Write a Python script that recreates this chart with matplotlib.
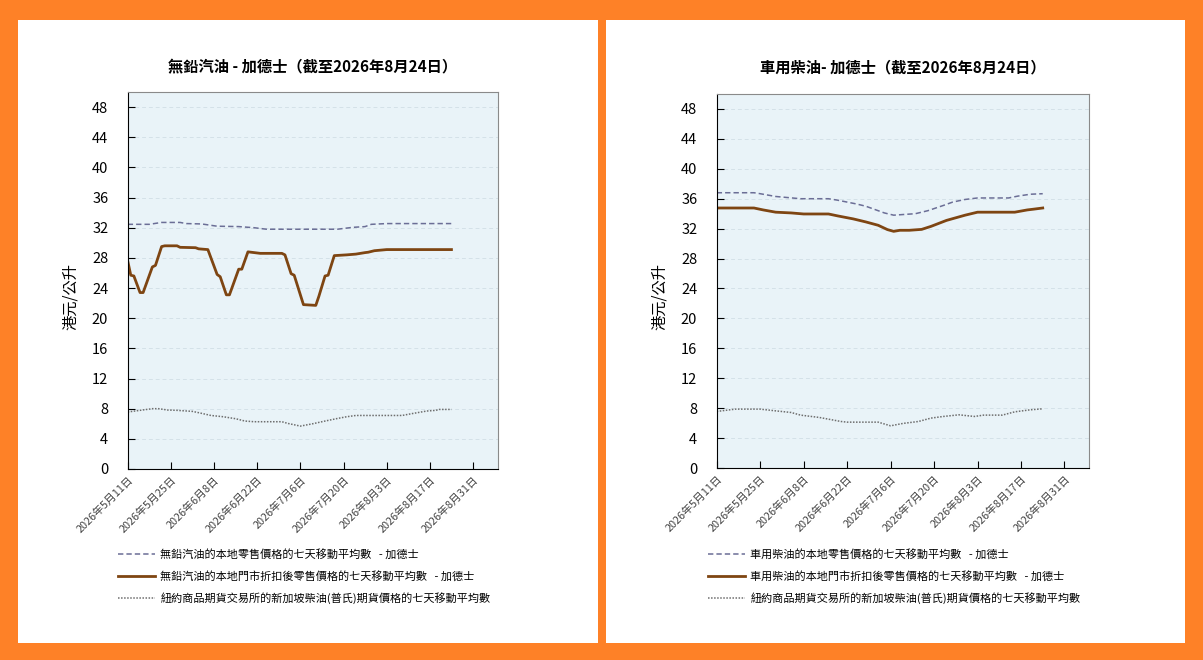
import pandas as pd
import matplotlib
matplotlib.use("Agg")
import matplotlib.pyplot as plt
import matplotlib.patches as mpatches

plt.rcParams["font.family"] = ["Noto Sans CJK TC", "DejaVu Sans"]

# ── data (7-day moving averages, HK$/litre) ──────────────
petrol_retail_dates = ["05-11", "05-18", "05-22", "05-28", "05-30", "06-04", "06-09", "06-16",
                       "06-21", "06-25", "07-18", "07-23", "07-27", "07-29", "08-03", "08-24"]
petrol_retail = [32.45, 32.45, 32.7, 32.7, 32.55, 32.5, 32.2, 32.15,
                 32.0, 31.8, 31.8, 32.05, 32.15, 32.45, 32.55, 32.55]

petrol_disc_dates = ["05-11", "05-12", "05-13", "05-15", "05-16", "05-19", "05-20", "05-22",
                     "05-23", "05-27", "05-28", "06-02", "06-03", "06-06", "06-09", "06-10",
                     "06-12", "06-13", "06-16", "06-17", "06-19", "06-21", "06-23", "06-30",
                     "07-01", "07-03", "07-04", "07-07", "07-11", "07-12", "07-14", "07-15",
                     "07-17", "07-21", "07-24", "07-27", "07-28", "07-30", "08-03", "08-24"]
petrol_disc = [27.6, 25.7, 25.6, 23.4, 23.4, 26.8, 27.0, 29.5,
               29.6, 29.6, 29.4, 29.35, 29.2, 29.1, 25.8, 25.5,
               23.1, 23.1, 26.5, 26.5, 28.8, 28.7, 28.6, 28.6,
               28.4, 25.9, 25.7, 21.8, 21.7, 22.9, 25.6, 25.7,
               28.3, 28.4, 28.5, 28.7, 28.75, 28.95, 29.1, 29.1]

petrol_nymex_dates = ["05-11", "05-15", "05-19", "05-21", "05-24", "05-27", "06-01", "06-03",
                      "06-07", "06-11", "06-15", "06-18", "06-21", "06-30", "07-02", "07-06",
                      "07-10", "07-14", "07-18", "07-21", "07-24", "08-08", "08-11", "08-16",
                      "08-19", "08-20", "08-24"]
petrol_nymex = [7.56, 7.78, 8.0, 8.0, 7.82, 7.78, 7.64, 7.47,
                7.1, 6.93, 6.67, 6.36, 6.27, 6.27, 6.04, 5.69,
                6.0, 6.36, 6.7, 6.93, 7.1, 7.1, 7.33, 7.69,
                7.78, 7.9, 7.9]

diesel_retail_dates = ["05-11", "05-23", "05-25", "05-30", "06-07", "06-16", "06-19", "06-25",
                       "06-28", "07-04", "07-07", "07-14", "07-18", "07-23", "07-26", "07-30",
                       "08-03", "08-13", "08-16", "08-20", "08-24"]
diesel_retail = [36.8, 36.8, 36.67, 36.3, 36.0, 36.0, 35.8, 35.3,
                 35.0, 34.1, 33.8, 34.0, 34.4, 35.1, 35.55, 35.9,
                 36.1, 36.1, 36.35, 36.6, 36.67]

diesel_disc_dates = ["05-11", "05-23", "05-26", "05-30", "06-04", "06-08", "06-16", "06-19",
                     "06-24", "06-28", "07-02", "07-05", "07-07", "07-09", "07-12", "07-16",
                     "07-19", "07-24", "07-30", "08-03", "08-15", "08-19", "08-21", "08-24"]
diesel_disc = [34.76, 34.76, 34.5, 34.2, 34.1, 33.96, 33.96, 33.7,
               33.3, 32.9, 32.45, 31.87, 31.64, 31.78, 31.78, 31.9,
               32.3, 33.1, 33.8, 34.2, 34.2, 34.5, 34.6, 34.76]

diesel_nymex_dates = ["05-11", "05-17", "05-25", "05-30", "06-04", "06-07", "06-13", "06-20",
                      "06-22", "07-02", "07-06", "07-10", "07-15", "07-19", "07-23", "07-28",
                      "08-02", "08-05", "08-11", "08-15", "08-20", "08-24"]
diesel_nymex = [7.56, 7.87, 7.87, 7.64, 7.42, 7.07, 6.76, 6.22,
                6.13, 6.13, 5.64, 5.96, 6.22, 6.67, 6.89, 7.11,
                6.89, 7.07, 7.07, 7.51, 7.78, 7.91]

YEAR = "2026"
x_tick_dates = ["05-11", "05-25", "06-08", "06-22", "07-06", "07-20", "08-03", "08-17", "08-31"]
y_ticks = list(range(0, 49, 4))

titles = ["無鉛汽油 - 加德士（截至2026年8月24日）", "車用柴油- 加德士（截至2026年8月24日）"]
legend_labels = [
    ["無鉛汽油的本地零售價格的七天移動平均數   - 加德士",
     "無鉛汽油的本地門市折扣後零售價格的七天移動平均數   - 加德士",
     "紐約商品期貨交易所的新加坡柴油(普氏)期貨價格的七天移動平均數"],
    ["車用柴油的本地零售價格的七天移動平均數   - 加德士",
     "車用柴油的本地門市折扣後零售價格的七天移動平均數   - 加德士",
     "紐約商品期貨交易所的新加坡柴油(普氏)期貨價格的七天移動平均數"],
]
y_label = "港元/公升"

# ── style ───────────────────────────────────
ORANGE = "#FE8127"
BG = "#E9F3F8"
C_RETAIL = "#6B6E96"
C_DISC = "#7E4512"
C_NYMEX = "#6E6E6E"

W, H = 1203, 660


def to_dt(days):
    return pd.to_datetime([f"{YEAR}-{d}" for d in days])


fig = plt.figure(figsize=(W / 100, H / 100), dpi=100)
fig.patch.set_facecolor(ORANGE)

# white panels
for x0, x1 in [(18, 598), (606, 1185)]:
    fig.patches.append(mpatches.Rectangle((x0 / W, 1 - 643 / H), (x1 - x0) / W, (643 - 20) / H,
                                          transform=fig.transFigure, facecolor="white",
                                          edgecolor="none", zorder=-5))

panels = [
    dict(rect=(127.7, 92, 497.7, 469), series=(petrol_retail_dates, petrol_retail, petrol_disc_dates,
                                                petrol_disc, petrol_nymex_dates, petrol_nymex),
         ylab_x=70, leg_x=118),
    dict(rect=(716.7, 94, 1089.3, 468), series=(diesel_retail_dates, diesel_retail, diesel_disc_dates,
                                                 diesel_disc, diesel_nymex_dates, diesel_nymex),
         ylab_x=659, leg_x=708),
]

for i, p in enumerate(panels):
    l, t, r, b = p["rect"]
    ax = fig.add_axes([l / W, 1 - b / H, (r - l) / W, (b - t) / H], zorder=2)
    ax.set_facecolor(BG)
    rd, rv, dd, dv, nd, nv = p["series"]

    h1, = ax.plot(to_dt(rd), rv, color=C_RETAIL, lw=1.1, ls=(0, (3.5, 2)))
    h2, = ax.plot(to_dt(dd), dv, color=C_DISC, lw=2.0)
    h3, = ax.plot(to_dt(nd), nv, color=C_NYMEX, lw=1.1, ls=(0, (1, 1)))

    ax.set_ylim(0, 50)
    ax.set_yticks(y_ticks)
    ax.set_xlim(pd.Timestamp(f"{YEAR}-05-11"), pd.Timestamp(f"{YEAR}-09-08"))
    xt = to_dt(x_tick_dates)
    ax.set_xticks(xt)
    ax.set_xticklabels([f"{d.year}年{d.month}月{d.day}日" for d in xt], rotation=45,
                       ha="right", rotation_mode="anchor", fontsize=7.8, color="#444444")
    ax.tick_params(axis="y", direction="in", length=5, labelsize=10.5, pad=14, colors="black")
    ax.tick_params(axis="x", direction="in", length=5, pad=4)

    ax.yaxis.grid(True, color="#D4E1E8", ls=(0, (4, 3)), lw=0.7)
    ax.set_axisbelow(True)
    for s in ["left", "bottom"]:
        ax.spines[s].set_color("black")
    for s in ["top", "right"]:
        ax.spines[s].set_color("#8A8A8A")

    fig.text((l + r) / 2 / W, 1 - 67 / H, titles[i], ha="center", va="center",
             fontsize=11, fontweight="bold", zorder=3)
    fig.text(p["ylab_x"] / W, 1 - 296 / H, y_label, rotation=90, ha="center", va="center",
             fontsize=11, zorder=3)

    leg = fig.legend([h1, h2, h3], legend_labels[i], loc="upper left",
                     bbox_to_anchor=(p["leg_x"] / W, 1 - 549 / H), frameon=False,
                     fontsize=8, handlelength=3.3, handletextpad=0.5, labelspacing=0.95,
                     borderpad=0, borderaxespad=0)
    leg.set_zorder(3)

plt.savefig("out.png", dpi=100, facecolor=fig.get_facecolor())
